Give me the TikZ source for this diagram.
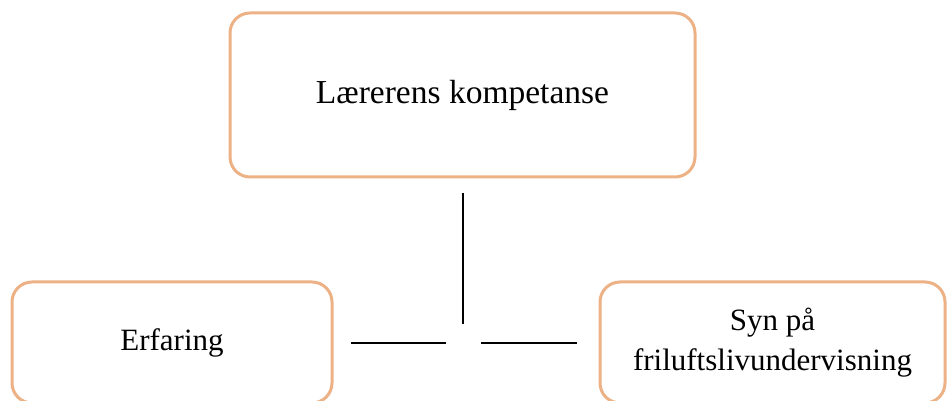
\documentclass[tikz,border=0pt]{standalone}
\usepackage{fontspec}
\setmainfont{Liberation Serif}
\definecolor{boxorange}{RGB}{236,177,132}

\begin{document}
\begin{tikzpicture}[x=0.5pt, y=0.5pt,
		boks/.style={draw=boxorange, line width=1.5pt, rounded corners=10pt, align=center, font=\fontsize{16.75}{19.5}\selectfont},
		smaboks/.style={boks, minimum height=60.5pt, font=\fontsize{15.5}{20}\selectfont},
		strek/.style={line width=0.55pt}]
		\useasboundingbox (0,0) rectangle (948,401);
		\node[boks, minimum width=232.5pt, minimum height=82pt] (laerer) at (462.5, 306) {Lærerens kompetanse};
		\node[smaboks, minimum width=160pt] (erfaring) at (172, 58.5) {\raisebox{-1.5pt}{Erfaring}};
		\node[smaboks, minimum width=172.5pt] (syn) at (772.5, 58.5) {Syn på\\friluftslivundervisning};
		\coordinate (stamme-topp) at (463, 208);
		\coordinate (stamme-bunn) at (463, 77);
		\coordinate (venstre-a) at (351, 58);
		\coordinate (venstre-b) at (446, 58);
		\coordinate (hoyre-a) at (481, 58);
		\coordinate (hoyre-b) at (577, 58);
		\draw[strek] (stamme-topp) -- (stamme-bunn);
		\draw[strek] (venstre-a) -- (venstre-b);
		\draw[strek] (hoyre-a) -- (hoyre-b);
	\end{tikzpicture}
\end{document}
